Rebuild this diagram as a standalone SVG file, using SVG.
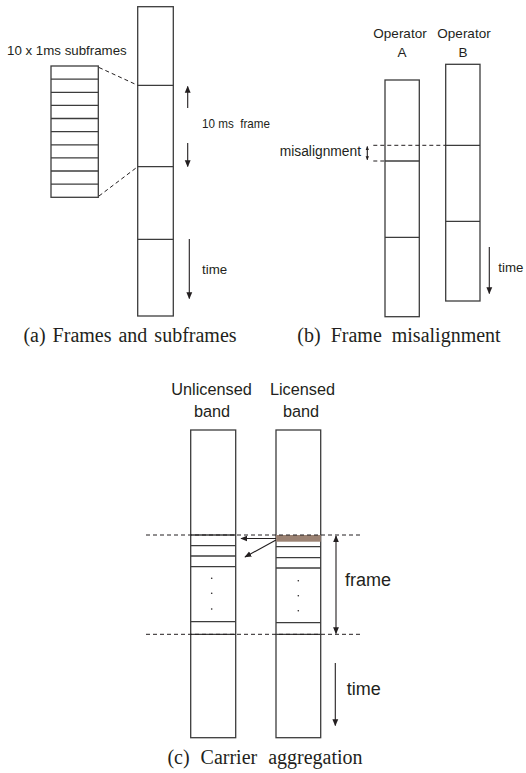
<svg xmlns="http://www.w3.org/2000/svg" width="526" height="773" viewBox="0 0 526 773">
<style>
.box{fill:#fff;stroke:#3c3c3c;stroke-width:1.3}
.ln{stroke:#3c3c3c;stroke-width:1.3;fill:none}
.dash{stroke:#231f20;stroke-width:1;stroke-dasharray:4 3;fill:none}
.arr{stroke:#231f20;stroke-width:1.1;fill:none}
.sans{font-family:"Liberation Sans",Arial,sans-serif;fill:#231f20}
.cap{font-family:"Liberation Serif","Times New Roman",serif;fill:#231f20;font-size:20px;text-anchor:middle}
</style>
<defs>
<marker id="ah" viewBox="0 0 10 10" refX="9" refY="5" markerWidth="7" markerHeight="7" markerUnits="userSpaceOnUse" orient="auto-start-reverse"><path d="M0,0.8 L10,5 L0,9.2 z" fill="#231f20"/></marker>
<marker id="ahs" viewBox="0 0 10 10" refX="9" refY="5" markerWidth="4" markerHeight="4" markerUnits="userSpaceOnUse" orient="auto-start-reverse"><path d="M0,0.8 L10,5 L0,9.2 z" fill="#231f20"/></marker>
</defs>

<!-- Panel (a) -->
<g id="a-frame">
<rect class="box" x="137.7" y="6.7" width="35.6" height="309.3"/>
<line class="ln" x1="137.7" y1="85.3" x2="173.3" y2="85.3"/>
<line class="ln" x1="137.7" y1="166.7" x2="173.3" y2="166.7"/>
<line class="ln" x1="137.7" y1="239.3" x2="173.3" y2="239.3"/>
</g>
<g id="a-subframes">
<rect class="box" x="51" y="66" width="47.3" height="131.3"/>
<line class="ln" x1="51" y1="79.1" x2="98.3" y2="79.1"/>
<line class="ln" x1="51" y1="92.3" x2="98.3" y2="92.3"/>
<line class="ln" x1="51" y1="105.4" x2="98.3" y2="105.4"/>
<line class="ln" x1="51" y1="118.5" x2="98.3" y2="118.5"/>
<line class="ln" x1="51" y1="131.7" x2="98.3" y2="131.7"/>
<line class="ln" x1="51" y1="144.8" x2="98.3" y2="144.8"/>
<line class="ln" x1="51" y1="157.9" x2="98.3" y2="157.9"/>
<line class="ln" x1="51" y1="171" x2="98.3" y2="171"/>
<line class="ln" x1="51" y1="184.2" x2="98.3" y2="184.2"/>
<text class="sans" x="7" y="55" font-size="13.3">10 x 1ms subframes</text>
</g>
<g id="a-labels">
<text class="sans" x="202" y="128" font-size="13.3" xml:space="preserve" textLength="68" lengthAdjust="spacingAndGlyphs">10 ms  frame</text>
<text class="sans" x="202" y="274" font-size="13.3">time</text>
<text class="cap" x="130" y="342" word-spacing="2">(a) Frames and subframes</text>
</g>

<!-- Panel (b) -->
<g id="b-opA">
<rect class="box" x="385" y="80" width="34.3" height="236.7"/>
<line class="ln" x1="385" y1="161" x2="419.3" y2="161"/>
<line class="ln" x1="385" y1="237.3" x2="419.3" y2="237.3"/>
<text class="sans" x="400" y="38" font-size="13.5" text-anchor="middle">Operator</text>
<text class="sans" x="402" y="56.7" font-size="13.5" text-anchor="middle">A</text>
</g>
<g id="b-opB">
<rect class="box" x="445.7" y="64.3" width="34.3" height="236.7"/>
<line class="ln" x1="445.7" y1="145.3" x2="480" y2="145.3"/>
<line class="ln" x1="445.7" y1="221.3" x2="480" y2="221.3"/>
<text class="sans" x="464" y="38" font-size="13.5" text-anchor="middle">Operator</text>
<text class="sans" x="463" y="56.7" font-size="13.5" text-anchor="middle">B</text>
</g>
<g id="b-labels">
<text class="sans" x="361" y="156" font-size="13.8" text-anchor="end">misalignment</text>
<text class="sans" x="498.3" y="272" font-size="13.3">time</text>
<text class="cap" x="399" y="342" word-spacing="5">(b) Frame misalignment</text>
</g>

<!-- Panel (c) -->
<g id="c-unlicensed">
<rect class="box" x="190.7" y="430" width="45" height="307.7"/>
<line class="ln" x1="190.7" y1="535" x2="235.7" y2="535"/>
<line class="ln" x1="190.7" y1="545.7" x2="235.7" y2="545.7"/>
<line class="ln" x1="190.7" y1="556" x2="235.7" y2="556"/>
<line class="ln" x1="190.7" y1="566.7" x2="235.7" y2="566.7"/>
<line class="ln" x1="190.7" y1="621.7" x2="235.7" y2="621.7"/>
<line class="ln" x1="190.7" y1="634.3" x2="235.7" y2="634.3"/>
<circle cx="211.7" cy="578.3" r="0.8" fill="#231f20"/>
<circle cx="211.7" cy="593.3" r="0.8" fill="#231f20"/>
<circle cx="211.7" cy="609" r="0.8" fill="#231f20"/>
<text class="sans" x="211.5" y="395" font-size="16.3" text-anchor="middle">Unlicensed</text>
<text class="sans" x="212" y="416.5" font-size="16.3" text-anchor="middle">band</text>
</g>
<g id="c-licensed">
<rect class="box" x="276" y="430" width="44.7" height="307.7"/>
<rect x="276" y="535" width="44.7" height="6.7" fill="#9b8273"/>
<line class="ln" x1="276" y1="546.7" x2="320.7" y2="546.7"/>
<line class="ln" x1="276" y1="557.7" x2="320.7" y2="557.7"/>
<line class="ln" x1="276" y1="568" x2="320.7" y2="568"/>
<line class="ln" x1="276" y1="622.7" x2="320.7" y2="622.7"/>
<line class="ln" x1="276" y1="634.3" x2="320.7" y2="634.3"/>
<circle cx="298.3" cy="580.7" r="0.8" fill="#231f20"/>
<circle cx="298.3" cy="595.7" r="0.8" fill="#231f20"/>
<circle cx="298.3" cy="610.7" r="0.8" fill="#231f20"/>
<text class="sans" x="302.5" y="395" font-size="16.3" text-anchor="middle">Licensed</text>
<text class="sans" x="301" y="416.5" font-size="16.3" text-anchor="middle">band</text>
</g>
<g id="c-labels">
<text class="sans" x="345" y="586" font-size="18">frame</text>
<text class="sans" x="346.7" y="695" font-size="18">time</text>
<text class="cap" x="265" y="764" word-spacing="6">(c) Carrier aggregation</text>
</g>

<!-- Connectors -->
<g id="connectors">
<!-- (a) -->
<line class="dash" x1="99" y1="67.5" x2="137.7" y2="85.3" stroke-dasharray="3 2.5"/>
<line class="dash" x1="99" y1="196" x2="137.7" y2="166.7" stroke-dasharray="3 2.5"/>
<line class="arr" x1="187.7" y1="108" x2="187.7" y2="86.5" marker-end="url(#ah)"/>
<line class="arr" x1="187.7" y1="143" x2="187.7" y2="166.5" marker-end="url(#ah)"/>
<line class="arr" x1="189.3" y1="239" x2="189.3" y2="298.5" marker-end="url(#ah)"/>
<!-- (b) -->
<line class="dash" x1="373.3" y1="145.3" x2="445.7" y2="145.3"/>
<line class="dash" x1="373.3" y1="161" x2="385" y2="161" stroke-dasharray="1 2"/>
<line class="arr" x1="367.3" y1="146.5" x2="367.3" y2="159.8" stroke-width="0.9" marker-start="url(#ahs)" marker-end="url(#ahs)"/>
<line class="arr" x1="489.3" y1="247" x2="489.3" y2="293.5" marker-end="url(#ah)"/>
<!-- (c) -->
<line class="dash" x1="146" y1="535" x2="363" y2="535"/>
<line class="dash" x1="146" y1="634.3" x2="363" y2="634.3"/>
<line class="arr" x1="276" y1="538.5" x2="241" y2="538.5" marker-end="url(#ah)"/>
<line class="arr" x1="276" y1="540" x2="245" y2="557" marker-end="url(#ah)"/>
<line class="arr" x1="336" y1="536" x2="336" y2="633.5" marker-start="url(#ah)" marker-end="url(#ah)"/>
<line class="arr" x1="335.3" y1="663" x2="335.3" y2="725.5" marker-end="url(#ah)"/>
</g>
</svg>
